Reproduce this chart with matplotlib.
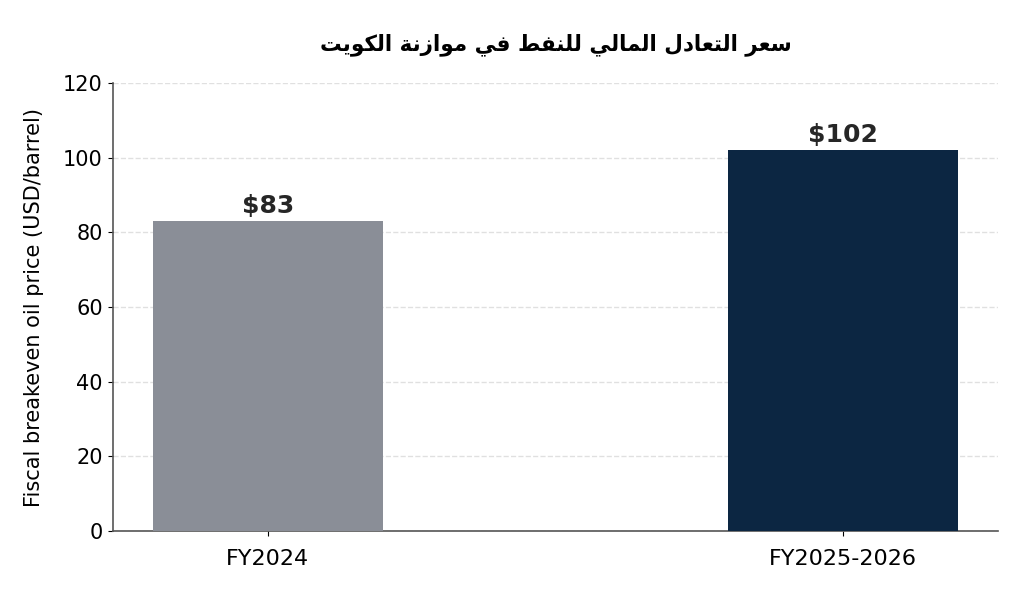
import matplotlib

matplotlib.use("Agg")
import matplotlib.pyplot as plt

# Data
categories = ["FY2024", "FY2025-2026"]
values = [83, 102]
value_labels = ["$83", "$102"]
bar_colors = ["#8a8e97", "#0c2642"]
title = "سعر التعادل المالي للنفط في موازنة الكويت"
ylabel = "Fiscal breakeven oil price (USD/barrel)"
yticks = [0, 20, 40, 60, 80, 100, 120]

# matplotlib has no Arabic shaping, so map letters to presentation forms
# (isolated, final, initial, medial) and reverse for left-to-right drawing.
FORMS = {
    "ا": ("\ufe8d", "\ufe8e", None, None),
    "ت": ("\ufe95", "\ufe96", "\ufe97", "\ufe98"),
    "ة": ("\ufe93", "\ufe94", None, None),
    "د": ("\ufea9", "\ufeaa", None, None),
    "ر": ("\ufead", "\ufeae", None, None),
    "ز": ("\ufeaf", "\ufeb0", None, None),
    "س": ("\ufeb1", "\ufeb2", "\ufeb3", "\ufeb4"),
    "ط": ("\ufec1", "\ufec2", "\ufec3", "\ufec4"),
    "ع": ("\ufec9", "\ufeca", "\ufecb", "\ufecc"),
    "ف": ("\ufed1", "\ufed2", "\ufed3", "\ufed4"),
    "ك": ("\ufed9", "\ufeda", "\ufedb", "\ufedc"),
    "ل": ("\ufedd", "\ufede", "\ufedf", "\ufee0"),
    "م": ("\ufee1", "\ufee2", "\ufee3", "\ufee4"),
    "ن": ("\ufee5", "\ufee6", "\ufee7", "\ufee8"),
    "و": ("\ufeed", "\ufeee", None, None),
    "ي": ("\ufef1", "\ufef2", "\ufef3", "\ufef4"),
}


def shape_arabic(text: str) -> str:
    out = []
    chars = list(text)
    for i, ch in enumerate(chars):
        if ch not in FORMS:
            out.append(ch)
            continue
        prev = chars[i - 1] if i > 0 else None
        nxt = chars[i + 1] if i + 1 < len(chars) else None
        joins_prev = prev in FORMS and FORMS[prev][2] is not None
        joins_next = nxt in FORMS and FORMS[ch][2] is not None
        iso, fin, ini, med = FORMS[ch]
        if joins_prev and joins_next:
            out.append(med)
        elif joins_prev:
            out.append(fin)
        elif joins_next:
            out.append(ini)
        else:
            out.append(iso)
    return "".join(reversed(out))


fig, ax = plt.subplots(figsize=(10.24, 5.95), dpi=100)

x = range(len(categories))
ax.bar(x, values, width=0.4, color=bar_colors, zorder=3)
for xi, v, lab in zip(x, values, value_labels):
    ax.text(xi, v + 1.0, lab, ha="center", va="bottom", fontsize=18,
            fontweight="bold", color="#262626", zorder=4)

ax.set_xticks(list(x))
ax.set_xticklabels(categories, fontsize=16)
ax.tick_params(axis="x", pad=10)
ax.set_yticks(yticks)
ax.set_ylim(0, 120)
ax.tick_params(axis="y", labelsize=15)
ax.set_ylabel(ylabel, fontsize=15, labelpad=14)
ax.set_title(shape_arabic(title), fontsize=15.5, fontweight="bold", pad=24,
             family=["DejaVu Sans"])

ax.grid(axis="y", color="#d9d9d9", ls="--", lw=1.0, alpha=0.8, zorder=0)
for side in ("top", "right"):
    ax.spines[side].set_visible(False)
for side in ("left", "bottom"):
    ax.spines[side].set_color("#555555")
    ax.spines[side].set_linewidth(1.2)

fig.subplots_adjust(left=0.11, right=0.975, top=0.86, bottom=0.108)
fig.savefig("out.png", facecolor="white")
